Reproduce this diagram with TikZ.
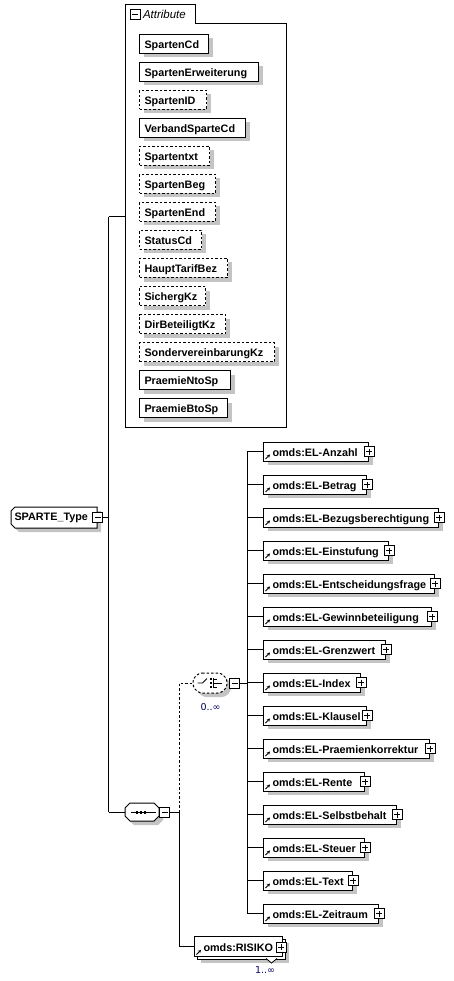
\documentclass[tikz,border=0pt]{standalone}
\usepackage{fontspec}
\setmainfont{Liberation Sans}
\newfontfamily\symf{DejaVu Sans}
\usetikzlibrary{shadows,calc,arrows.meta}
\definecolor{shdcol}{HTML}{C4C4C4}
\definecolor{cardcol}{HTML}{000060}
\begin{document}
\begin{tikzpicture}[x=1pt,y=-1pt,line width=1pt,
  every node/.style={font=\fontsize{10.8}{12}\selectfont\bfseries},
  shd/.style={drop shadow={shadow xshift=4pt,shadow yshift=-4pt,fill=shdcol,opacity=1}},
  attr/.style={draw,fill=white,shd,anchor=north west,minimum height=19pt,inner sep=0pt,
    text width=#1,align=left,text height=9.5pt,text depth=0.5pt},
  elem/.style={draw,fill=white,shd,anchor=west,minimum height=19pt,inner sep=0pt,
    text width=#1,align=left,text height=9.5pt,text depth=0.5pt},
  dashed/.style={dash pattern=on 2.5pt off 2pt},
  pmbox/.style={draw,fill=white,minimum size=10pt,inner sep=0pt,line width=0.8pt,
    drop shadow={shadow xshift=0.8pt,shadow yshift=-0.8pt,fill=black,opacity=1}},
  minusbox/.style={pmbox,path picture={\draw[line width=0.8pt]
    ($(path picture bounding box.west)+(2,0)$) -- ($(path picture bounding box.east)+(-2,0)$);}},
  plusbox/.style={pmbox,path picture={\draw[line width=0.8pt]
    ($(path picture bounding box.west)+(2,0)$) -- ($(path picture bounding box.east)+(-2,0)$)
    ($(path picture bounding box.north)+(0,2)$) -- ($(path picture bounding box.south)+(0,-2)$);}},
  refarr/.style={line width=0.9pt,-{Stealth[length=3pt,width=3.2pt]}},
  card/.style={font=\symf\fontsize{9.5}{10}\selectfont,text=cardcol,inner sep=0pt},
  ghost/.style={inner sep=0pt,minimum width=#1}
]
\useasboundingbox (0,0) rectangle (453,981);

% ---------- attribute group ----------
\draw (125,5) -- (195,5) -- (195,24) -- (286,24) -- (286,427) -- (125,427) -- cycle;
\node[minusbox] (agm) at (135,14.5) {};
\node[font=\fontsize{11.5}{12}\selectfont\itshape,anchor=west,inner sep=0pt] (agl) at (142.5,14.5) {Attribute};
\coordinate (agin) at (125,217);

\foreach \nm/\w/\st [count=\i from 0] in {SpartenCd/69/solid,SpartenErweiterung/119/solid,
  SpartenID/67/dashed,VerbandSparteCd/106/solid,Spartentxt/70/dashed,SpartenBeg/76/dashed,
  SpartenEnd/76/dashed,StatusCd/62/dashed,HauptTarifBez/88/dashed,SichergKz/66/dashed,
  DirBeteiligtKz/86/dashed,SondervereinbarungKz/135/dashed,PraemieNtoSp/91/solid,PraemieBtoSp/88/solid}
  \node[attr=\w pt,\st] (a\i) at (139,{34+28*\i}) {\hspace*{5pt}\nm};

% ---------- root ----------
\fill[shdcol] (19,511) -- (101,511) -- (101,532) -- (19,532) -- (15,528) -- (15,515) -- cycle;
\draw[fill=white] (15,507) -- (97,507) -- (97,528) -- (15,528) -- (11,524) -- (11,511) -- cycle;
\node[inner sep=0pt,anchor=west] (st) at (14,517.5) {SPARTE\_Type};
\node[minusbox] (sm) at (97.5,517.5) {};
\coordinate (vA) at (108.5,217);
\coordinate (vB) at (108.5,812);

% ---------- sequence ----------
\fill[shdcol] (134,807) -- (158,807) -- (163,812) -- (163,820) -- (158,825) -- (134,825) -- (129,820) -- (129,812) -- cycle;
\draw[fill=white] (130,803) -- (154,803) -- (159,808) -- (159,816) -- (154,821) -- (130,821) -- (125,816) -- (125,808) -- cycle;
\node[ghost=34pt,minimum height=18pt] (seq) at (142,812) {};
\draw (130.5,812) -- (155.5,812);
\foreach \dx in {135.5,139.5,143.5} \fill (\dx,810.5) rectangle ++(2.2,3);
\node[minusbox] (qm) at (164.5,812) {};
\coordinate (sv) at (179,812);

% ---------- choice ----------
\fill[shdcol,rounded corners=3pt] (203,677) -- (225,677) -- (231,683) -- (231,691) -- (225,697) -- (203,697) -- (197,691) -- (197,683) -- cycle;
\draw[dashed,fill=white,rounded corners=3pt] (199,673) -- (221,673) -- (227,679) -- (227,687) -- (221,693) -- (199,693) -- (193,687) -- (193,679) -- cycle;
\node[ghost=34pt,minimum height=20pt] (ch) at (210,683) {};
\draw[line width=0.9pt] (197.5,683) -- (202.5,683) -- (207,678.5);
\foreach \yy in {679,683,687} \fill (209.5,\yy-1) rectangle ++(2,2);
\draw[line width=0.9pt] (213.5,678) -- (213.5,688) (213.5,679) -- (217,679) (213.5,687) -- (217,687) (213.5,683) -- (221.5,683);
\node[minusbox] (cm) at (234.5,683.5) {};
\node[card,anchor=base] (c0) at (210.5,710) {0..∞};
\coordinate (cv) at (247,451.5);

% ---------- elements ----------
\foreach \nm/\w [count=\i from 0] in {Anzahl/105,Betrag/103,Bezugsberechtigung/175,Einstufung/125,
  Entscheidungsfrage/171,Gewinnbeteiligung/168,Grenzwert/122,Index/97,Klausel/103,
  Praemienkorrektur/166,Rente/101,Selbstbehalt/133,Steuer/101,Text/89,Zeitraum/115}
{
  \node[elem=\w pt] (e\i) at (263,{451.5+33*\i}) {\hspace*{9pt}omds:EL-\nm};
  \node[plusbox] (p\i) at (e\i.east) {};
  \draw[refarr] ($(e\i.south west)+(2.5,-2.5)$) -- ++(4.5,-4.5);
  \draw (e\i.west -| cv) -- (e\i.west);
}
\draw (e0.west -| cv) -- (e14.west -| cv);

% ---------- RISIKO ----------
\fill[shdcol] (201,943) rectangle (289,963);
\draw[fill=white] (197,939) rectangle (285,959);
\node[draw,fill=white,anchor=north west,minimum width=88pt,minimum height=20pt,inner sep=0pt,
  text width=88pt,align=left,text height=9.5pt,text depth=0.5pt] (ris) at (194,936) {\hspace*{9pt}omds:RISIKO};
\draw[refarr] ($(ris.south west)+(2.5,-2.5)$) -- ++(4.5,-4.5);
\node[plusbox] (rp) at (281,947) {};
\draw[fill=white,line width=0.8pt] (266,958.5) -- (271.5,963) -- (277,958.5);
\node[card,anchor=base] (c1) at (265,973) {1..∞};

% ---------- connectors ----------
\draw (sm.east) -- (sm.east -| vA);
\draw (vA) -- (agin);
\draw (vA) -- (vB);
\draw (vB) -- (seq.west);
\draw (qm.east) -- (sv);
\draw[dashed] (sv) |- (ch.west);
\draw (sv) |- (ris.west);
\draw (cm.east) -- (cm.east -| cv);
\end{tikzpicture}
\end{document}
